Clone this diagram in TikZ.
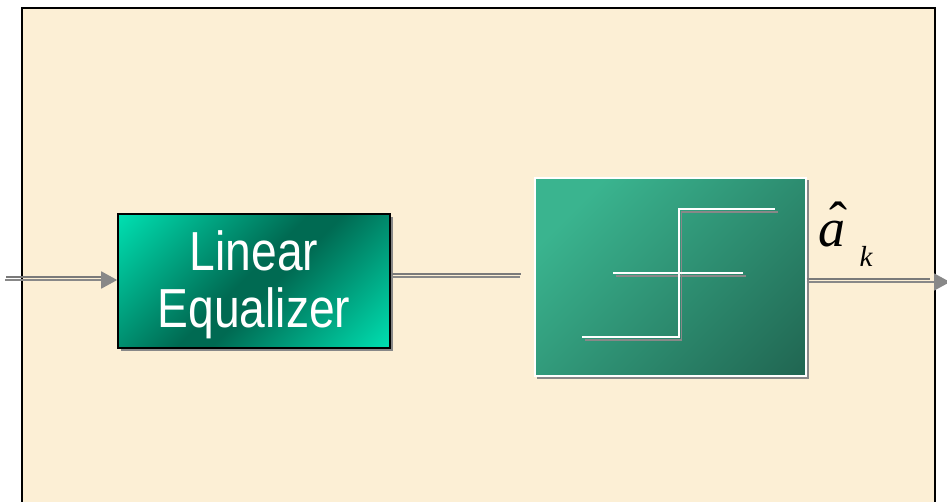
\documentclass[tikz,border=0pt]{standalone}
\usepackage{fontspec}
\setmainfont{Liberation Serif}
\newfontfamily\blockfont[FakeStretch=0.84]{Liberation Sans}
\usetikzlibrary{arrows.meta}

\definecolor{paper}{HTML}{FCEFD5}
\definecolor{tealbright}{HTML}{00E2B3}
\definecolor{tealdark}{HTML}{006A52}
\definecolor{declight}{HTML}{3AB48F}
\definecolor{decdark}{HTML}{1A5242}
\definecolor{wire}{HTML}{888888}
\definecolor{wiredark}{HTML}{7A7A7A}

\pgfdeclarehorizontalshading{eqshade}{100bp}{%
  color(0bp)=(tealbright); color(14bp)=(tealbright);
  color(48bp)=(tealdark); color(54bp)=(tealdark);
  color(86bp)=(tealbright); color(100bp)=(tealbright)}
\pgfdeclarehorizontalshading{decshade}{100bp}{%
  color(0bp)=(declight); color(25bp)=(declight);
  color(100bp)=(decdark)}

\tikzset{
  x=1pt, y=-1pt,
  eqbox/.style={draw=black, line width=1.6pt, shading=eqshade, shading angle=-45,
    minimum width=272pt, minimum height=134pt, inner sep=0pt},
  eqtext/.style={text=white, align=center, inner sep=0pt,
    font=\blockfont\fontsize{55}{57}\selectfont},
  decbox/.style={draw=white, line width=1.4pt, shading=decshade, shading angle=-45,
    minimum width=271pt, minimum height=198pt, inner sep=0pt},
  boxshadow/.style={fill=wire},
  wireline/.style={draw=wire, line width=1.8pt},
  wirelow/.style={draw=wiredark, line width=1.8pt},
  tip/.style={-{Triangle[length=16pt,width=17pt]}},
  stepline/.style={draw=white, line width=1.4pt},
  stepshadow/.style={draw=wire, line width=1.6pt},
  label/.style={inner sep=0pt, anchor=base}
}

\begin{document}
\begin{tikzpicture}
  \useasboundingbox (0,0) rectangle (947,502);
  \clip (0,0) rectangle (947,502);

  % paper panel with its frame (open at the bottom)
  \fill[white] (0,0) rectangle (947,502);
  \fill[paper] (22,8) rectangle (935,510);
  \draw[black, line width=2pt] (22,512) -- (22,8) -- (935,8) -- (935,512);

  % drop shadows of the blocks
  \fill[boxshadow] (121,217) rectangle (393,351);
  \fill[boxshadow] (537,180) rectangle (809,379);

  % blocks
  \node[eqbox] (le) at (254,281) {};
  \node[eqtext] (letext) at (254,284.5) {Linear\\Equalizer};
  \node[decbox] (dec) at (670.5,277) {};

  % step characteristic of the decision device
  \begin{scope}[shift={(2.5,3)}]
    \draw[stepshadow] (582,337) -- (679,337) -- (679,209) -- (775,209);
    \draw[stepshadow] (613,273) -- (743,273);
  \end{scope}
  \draw[stepline] (582,337) -- (679,337) -- (679,209) -- (775,209);
  \draw[stepline] (613,273) -- (743,273);

  % connectors, drawn as doubled grey rules
  \coordinate (src) at (5,280);
  \coordinate (gap) at (520,277);
  \coordinate (sink) at (950,282);

  \draw[wirelow] ([xshift=1pt,yshift=2.8pt]src) -- ([xshift=-10pt,yshift=2.8pt]src -| le.west);
  \draw[wireline, tip] (src) -- (src -| le.west);

  \draw[wirelow] ([xshift=1pt,yshift=2.8pt]le.east |- gap) -- ([xshift=1pt,yshift=2.8pt]gap);
  \draw[wireline] (le.east |- gap) -- (gap);

  \draw[wirelow] ([yshift=2.8pt]dec.east |- sink) -- ([xshift=-20pt,yshift=2.8pt]sink);
  \draw[wireline, tip] (dec.east |- sink) -- (sink);

  % output symbol: estimated symbol a-hat with index k
  \node[label] (ahat) at (832,247) {\fontsize{54}{54}\selectfont\itshape a};
  \node[label] (hat) at (838,240) {\fontsize{54}{54}\selectfont ˆ};
  \node[label] (sub) at (866,267) {\fontsize{29}{29}\selectfont\itshape k};
\end{tikzpicture}
\end{document}
